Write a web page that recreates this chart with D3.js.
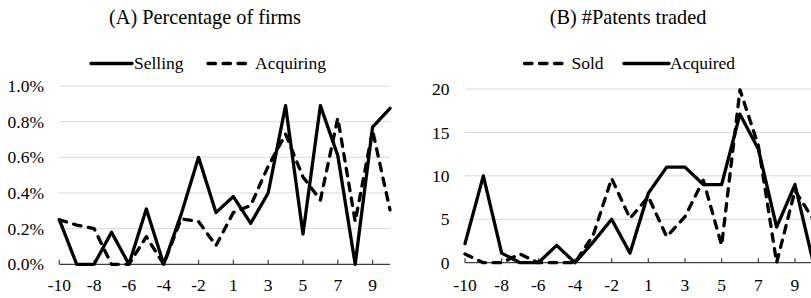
<!DOCTYPE html>
<html>
<head>
<meta charset="utf-8">
<script src="https://cdn.jsdelivr.net/npm/d3@7"></script>
<style>
  body { margin: 0; background: #fff; }
</style>
</head>
<body>
<div id="chart"></div>
<script>
// event time, 0 is skipped
const periods = [-10, -9, -8, -7, -6, -5, -4, -3, -2, -1, 1, 2, 3, 4, 5, 6, 7, 8, 9, 10];
const tickPeriods = [-10, -8, -6, -4, -2, 1, 3, 5, 7, 9];

// (A) percentage of firms
const selling = [0.25, 0, 0, 0.18, 0, 0.31, 0, 0.28, 0.60, 0.29, 0.38, 0.23, 0.40, 0.89, 0.17, 0.89, 0.61, 0, 0.77, 0.875];
const acquiring = [0.25, 0.22, 0.20, 0, 0, 0.155, 0, 0.255, 0.24, 0.105, 0.29, 0.33, 0.55, 0.73, 0.49, 0.36, 0.82, 0.24, 0.75, 0.305];
const pctTicks = [0, 0.2, 0.4, 0.6, 0.8, 1.0];

// (B) number of patents traded
const sold = [1, 0, 0, 1, 0, 0, 0, 3.2, 9.7, 5.1, 7.6, 3, 5.3, 9.5, 2, 19.9, 13.5, 0, 8.3, 5];
const acquired = [2.2, 10, 1.1, 0, 0, 2, 0, 2.4, 5, 1.1, 8, 11, 11, 9, 9, 17.1, 13.1, 4.1, 9, 0];
const patentTicks = [0, 5, 10, 15, 20];

const serif = "Liberation Serif";

const svg = d3.select("#chart").append("svg")
  .attr("width", 811)
  .attr("height", 298);

function label(sel, size) {
  return sel.style("font-family", serif).style("font-size", size + "px").attr("fill", "#000");
}

function panel(opts) {
  const g = svg.append("g");
  const x = d3.scalePoint().domain(periods).range(opts.xRange);
  const y = d3.scaleLinear().domain(opts.yDomain).range([opts.y0, opts.y1]);

  // title
  g.append("text")
    .attr("x", opts.titleX).attr("y", 24)
    .attr("text-anchor", "middle")
    .call(label, 20.3)
    .text(opts.title);

  // gridlines
  g.selectAll(".grid").data(opts.ticks.slice(1)).join("line")
    .attr("x1", opts.xRange[0]).attr("x2", opts.gridEnd)
    .attr("y1", d => y(d)).attr("y2", d => y(d))
    .attr("stroke", "#d9d9d9").attr("stroke-width", 1);

  // y labels
  g.selectAll(".ylab").data(opts.ticks).join("text")
    .attr("x", opts.yLabelX).attr("y", d => y(d))
    .attr("dy", "0.35em")
    .attr("text-anchor", "end")
    .call(label, 17.5)
    .text(opts.fmt);

  // x axis line + inside ticks
  g.append("line")
    .attr("x1", opts.xRange[0]).attr("x2", opts.gridEnd)
    .attr("y1", y(0)).attr("y2", y(0))
    .attr("stroke", "#404040").attr("stroke-width", 1.2);
  g.selectAll(".tick").data(tickPeriods).join("line")
    .attr("x1", d => x(d)).attr("x2", d => x(d))
    .attr("y1", y(0)).attr("y2", y(0) - 4.5)
    .attr("stroke", "#404040").attr("stroke-width", 1.2);
  g.selectAll(".xlab").data(tickPeriods).join("text")
    .attr("x", d => x(d)).attr("y", 290.5)
    .attr("text-anchor", "middle")
    .call(label, 17.5)
    .text(d => d);

  const line = d3.line().x((d, i) => x(periods[i])).y(d => y(d));

  opts.series.forEach(s => {
    g.append("path")
      .datum(s.values)
      .attr("d", line)
      .attr("fill", "none")
      .attr("stroke", "#000")
      .attr("stroke-width", 3.3)
      .attr("stroke-linejoin", "round")
      .attr("stroke-linecap", "round")
      .attr("stroke-dasharray", s.dashed ? "7.5,7.5" : null);

    // legend entry
    g.append("line")
      .attr("x1", s.legend[0]).attr("x2", s.legend[1])
      .attr("y1", 63.5).attr("y2", 63.5)
      .attr("stroke", "#000")
      .attr("stroke-width", 3.3)
      .attr("stroke-linecap", "round")
      .attr("stroke-dasharray", s.dashed ? "7.5,7.5" : null);
    g.append("text")
      .attr("x", s.legend[2]).attr("y", 69)
      .call(label, 17.5)
      .text(s.name);
  });
}

panel({
  title: "(A) Percentage of firms",
  titleX: 205,
  xRange: [59.3, 390],
  gridEnd: 390,
  yDomain: [0, 1.0],
  y0: 264.3, y1: 86,
  ticks: pctTicks,
  yLabelX: 44,
  fmt: d => d.toFixed(1) + "%",
  series: [
    { name: "Selling", values: selling, dashed: false, legend: [91, 132, 134] },
    { name: "Acquiring", values: acquiring, dashed: true, legend: [208, 248, 255] }
  ]
});

panel({
  title: "(B) #Patents traded",
  titleX: 628,
  xRange: [465, 813.3],
  gridEnd: 811,
  yDomain: [0, 20],
  y0: 262.7, y1: 89,
  ticks: patentTicks,
  yLabelX: 449.5,
  fmt: d => d,
  series: [
    { name: "Sold", values: sold, dashed: true, legend: [524.5, 563, 571.5] },
    { name: "Acquired", values: acquired, dashed: false, legend: [624, 669, 670] }
  ]
});
</script>
</body>
</html>
